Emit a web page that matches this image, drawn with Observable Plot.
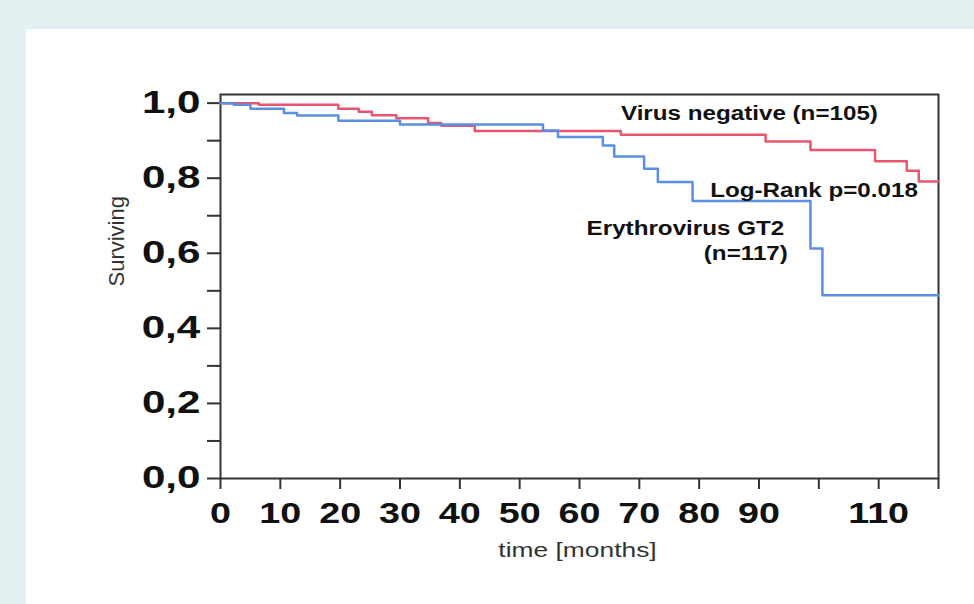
<!DOCTYPE html>
<html><head><meta charset="utf-8">
<script src="https://cdn.jsdelivr.net/npm/d3@7"></script>
<script src="https://cdn.jsdelivr.net/npm/@observablehq/plot@0.6"></script>
<style>
html,body{margin:0;padding:0;background:#e3f1f3;width:974px;height:604px;overflow:hidden;}
#panel{position:absolute;left:26px;top:29px;width:948px;height:575px;background:#fff;}
#chart{position:absolute;left:0;top:0;}
</style></head><body>
<div id="panel"></div><div id="chart"></div>
<script>
// Virus negative (n=105)
const negTime = [0, 6.4, 19.7, 23.1, 25.3, 29.4, 34.7, 36.9, 42.5, 66.9, 91.1, 98.6, 109.4, 114.7, 116.7, 120];
const negSurv = [1.0, 0.996, 0.985, 0.977, 0.968, 0.960, 0.947, 0.940, 0.926, 0.916, 0.898, 0.875, 0.845, 0.820, 0.791, 0.791];
// Erythrovirus GT2 (n=117)
const gt2Time = [0, 2.2, 5.0, 10.6, 12.8, 19.7, 30.0, 53.9, 56.4, 63.9, 65.8, 70.8, 73.1, 78.9, 98.6, 100.6, 120];
const gt2Surv = [1.0, 0.996, 0.985, 0.974, 0.967, 0.953, 0.943, 0.927, 0.910, 0.887, 0.858, 0.825, 0.790, 0.739, 0.613, 0.488, 0.488];

const xTicks = [0, 10, 20, 30, 40, 50, 60, 70, 80, 90, 100, 110, 120];
const xTickLabels = ["0", "10", "20", "30", "40", "50", "60", "70", "80", "90", "", "110", ""];
const yTicks = [0, 0.1, 0.2, 0.3, 0.4, 0.5, 0.6, 0.7, 0.8, 0.9, 1.0];
const yTickLabels = ["0,0", "", "0,2", "", "0,4", "", "0,6", "", "0,8", "", "1,0"];
const annotationTexts = ["Virus negative (n=105)", "Log-Rank p=0.018", "Erythrovirus GT2", "(n=117)"];
const xLabel = "time [months]";
const yLabel = "Surviving";

const negData = negTime.map((t, i) => ({t, s: negSurv[i]}));
const gt2Data = gt2Time.map((t, i) => ({t, s: gt2Surv[i]}));
const FONT = "Liberation Sans, Arial, sans-serif";

const plot = Plot.plot({
  width: 974,
  height: 604,
  marginLeft: 220,
  marginRight: 36,
  marginTop: 94,
  marginBottom: 126,
  style: {background: "transparent", fontFamily: FONT, color: "#222"},
  x: {domain: [0, 120]},
  y: {domain: [0, 1.023]},
  marks: [
    Plot.frame({stroke: "#333", strokeWidth: 2}),
    Plot.axisY(yTicks, {
      tickSize: 13, tickPadding: 7, strokeWidth: 2, stroke: "#333",
      tickFormat: (d) => yTickLabels[yTicks.indexOf(d)],
      fontSize: 31, fontWeight: "bold", fill: "#111", label: null
    }),
    Plot.axisX(xTicks, {
      tickSize: 11, tickPadding: 13, strokeWidth: 2, stroke: "#333",
      tickFormat: (d) => xTickLabels[xTicks.indexOf(d)],
      fontSize: 29, fontWeight: "bold", fill: "#111", label: null
    }),
    Plot.line(negData, {x: "t", y: "s", curve: "step-after", stroke: "#e9546f", strokeWidth: 2.5}),
    Plot.line(gt2Data, {x: "t", y: "s", curve: "step-after", stroke: "#5b8fe3", strokeWidth: 2.5}),
    Plot.text([annotationTexts[0]], {x: 88.4, y: 0.972, fontSize: 20, fontWeight: "bold", fill: "#111"}),
    Plot.text([annotationTexts[1]], {x: 99.2, y: 0.767, fontSize: 20, fontWeight: "bold", fill: "#111"}),
    Plot.text([annotationTexts[2]], {x: 77.7, y: 0.666, fontSize: 20, fontWeight: "bold", fill: "#111"}),
    Plot.text([annotationTexts[3]], {x: 87.8, y: 0.599, fontSize: 20, fontWeight: "bold", fill: "#111"}),
    Plot.text([xLabel], {frameAnchor: "bottom", dy: 78, dx: -2, fontSize: 20, fill: "#333"}),
    Plot.text([yLabel], {frameAnchor: "left", dx: -104, rotate: -90, fontSize: 22, fill: "#333"})
  ]
});
document.getElementById("chart").appendChild(plot);

// widen glyphs horizontally around their anchor (right edge or centre), keeping Plot's placement
function stretchEl(t, s, anchor) {
  if (!t.textContent) return;
  const b = t.getBBox();
  const ax = anchor === "end" ? b.x + b.width : b.x + b.width / 2;
  const tr = t.getAttribute("transform") || "";
  t.setAttribute("transform", `${tr} translate(${ax},0) scale(${s},1) translate(${-ax},0)`);
}
plot.querySelectorAll('g[aria-label="y-axis tick label"] text').forEach(t => stretchEl(t, 1.36, "end"));
plot.querySelectorAll('g[aria-label="x-axis tick label"] text').forEach(t => stretchEl(t, 1.3, "middle"));
plot.querySelectorAll("text").forEach(t => {
  if (annotationTexts.includes(t.textContent)) stretchEl(t, 1.21, "middle");
  else if (t.textContent === xLabel) stretchEl(t, 1.32, "middle");
});
</script>
</body></html>
